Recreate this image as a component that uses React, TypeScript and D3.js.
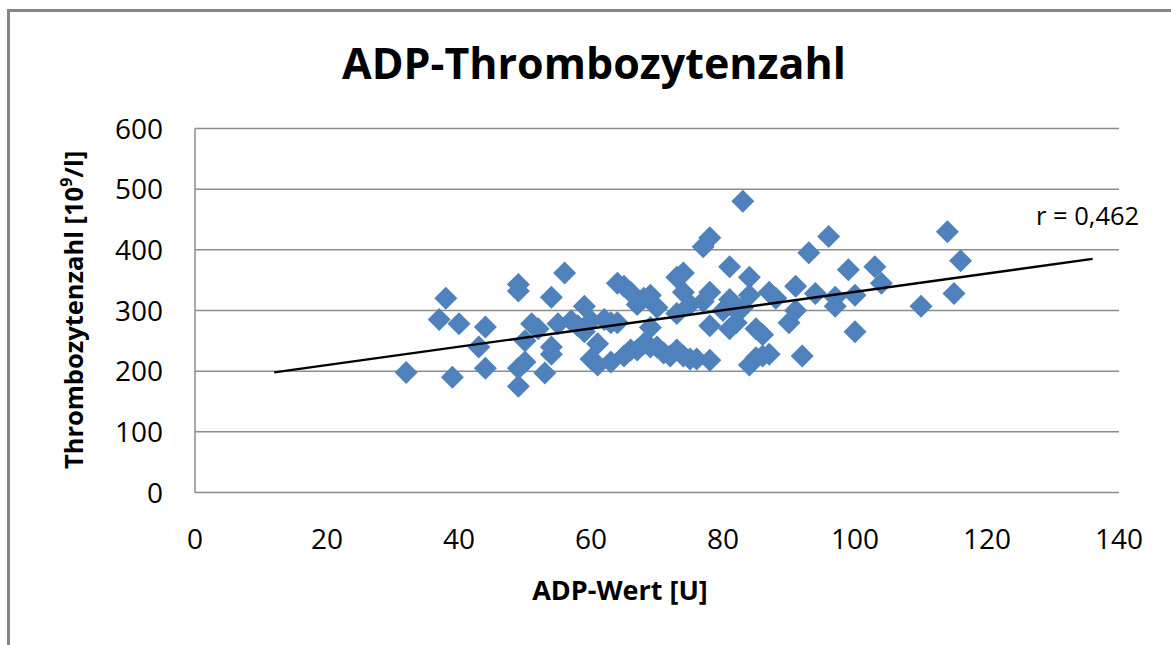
import * as d3 from "d3";
import React from "react";

// ADP-Wert [U] vs. Thrombozytenzahl [10^9/l]
const adpValues = [
  32, 37, 38, 39, 40, 43, 44, 44, 49, 49, 49, 49, 50, 50, 51, 52, 53, 54, 54, 54,
  55, 56, 57, 58, 59, 59, 60, 60, 61, 61, 62, 63, 63, 64, 64, 65, 65, 66, 66, 67,
  67, 68, 68, 69, 69, 69, 70, 70, 71, 72, 73, 73, 73, 74, 74, 74, 75, 75, 76, 77,
  77, 78, 78, 78, 78, 80, 81, 81, 81, 82, 82, 83, 83, 84, 84, 84, 85, 85, 86, 86,
  87, 87, 88, 90, 91, 91, 92, 93, 94, 96, 97, 97, 99, 100, 100, 103, 104, 110, 114, 115,
  116,
];
const plateletValues = [
  198, 285, 320, 190, 278, 240, 273, 205, 343, 332, 175, 205, 250, 215, 278, 270, 197, 322, 240, 228,
  278, 362, 283, 275, 265, 307, 220, 283, 245, 210, 285, 215, 280, 345, 280, 340, 225, 330, 235, 310,
  235, 320, 245, 325, 272, 240, 305, 240, 230, 225, 355, 295, 235, 362, 330, 225, 310, 220, 220, 405,
  315, 420, 330, 275, 218, 300, 372, 318, 270, 280, 300, 480, 305, 355, 325, 210, 270, 222, 260, 225,
  330, 228, 320, 280, 340, 300, 225, 395, 328, 422, 322, 307, 367, 325, 265, 372, 345, 307, 430, 328,
  382,
];

const xTicks = [0, 20, 40, 60, 80, 100, 120, 140];
const yTicks = [0, 100, 200, 300, 400, 500, 600];

// linear trend drawn by the spreadsheet, with forecast range
const trendIntercept = 180;
const trendSlope = 1.508;
const trendRange = [12, 136];
const rLabel = "r = 0,462";

const W = 1171;
const H = 645;
const FONT = "'Open Sans', 'DejaVu Sans', sans-serif";

const App = () => {
  const xScale = d3.scaleLinear().domain([0, 140]).range([195, 1119]);
  const yScale = d3.scaleLinear().domain([0, 600]).range([492.5, 128.5]);

  const points = adpValues.map((x, i) => ({ x, y: plateletValues[i] }));

  const trendLine = d3.line<number>()
    .x(d => xScale(d))
    .y(d => yScale(trendIntercept + trendSlope * d));

  const r = 11.5;
  const diamond = (cx: number, cy: number) =>
    `M${cx},${cy - r}L${cx + r},${cy}L${cx},${cy + r}L${cx - r},${cy}Z`;

  return (
    <svg
      width={W}
      height={H}
      style={{ position: "absolute", left: 0, top: 0, display: "block", background: "#fff" }}
      fontFamily={FONT}
    >
      {/* outer chart frame */}
      <rect x={8.5} y={10.5} width={1200} height={700} fill="#fff" stroke="#858585" strokeWidth={3} />

      <text x={594} y={79} textAnchor="middle" fontSize={43} fontWeight="bold" fill="#000">
        ADP-Thrombozytenzahl
      </text>

      {/* gridlines */}
      {yTicks.map(t => (
        <line key={t} x1={xScale(0)} x2={xScale(140)} y1={yScale(t)} y2={yScale(t)}
          stroke="#8c8c8c" strokeWidth={1.5} />
      ))}
      <line x1={xScale(0)} x2={xScale(0)} y1={yScale(0)} y2={yScale(600)} stroke="#8c8c8c" strokeWidth={1.5} />

      {/* y tick labels */}
      {yTicks.map(t => (
        <text key={t} x={163} y={yScale(t)} dy="0.36em" textAnchor="end" fontSize={28} fill="#000">
          {t}
        </text>
      ))}
      {/* x tick labels */}
      {xTicks.map(t => (
        <text key={t} x={xScale(t)} y={549} textAnchor="middle" fontSize={28} fill="#000">
          {t}
        </text>
      ))}

      {/* points */}
      {points.map((d, i) => (
        <path key={i} d={diamond(xScale(d.x), yScale(d.y))} fill="#4f81bd" />
      ))}

      {/* trend line */}
      <path d={trendLine(trendRange) || ""} stroke="#000" strokeWidth={2.4} fill="none" />

      <text x={1036} y={225} fontSize={25.5} fill="#000">{rLabel}</text>

      {/* axis titles */}
      <text x={620} y={600} textAnchor="middle" fontSize={27} fontWeight="bold" fill="#000">
        ADP-Wert [U]
      </text>
      <text transform="translate(83,310) rotate(-90)" textAnchor="middle" fontSize={25.5} fontWeight="bold" fill="#000">
        Thrombozytenzahl [10<tspan fontSize={16} dy={-11}>9</tspan><tspan dy={11}>/l]</tspan>
      </text>
    </svg>
  );
};

export default App;
